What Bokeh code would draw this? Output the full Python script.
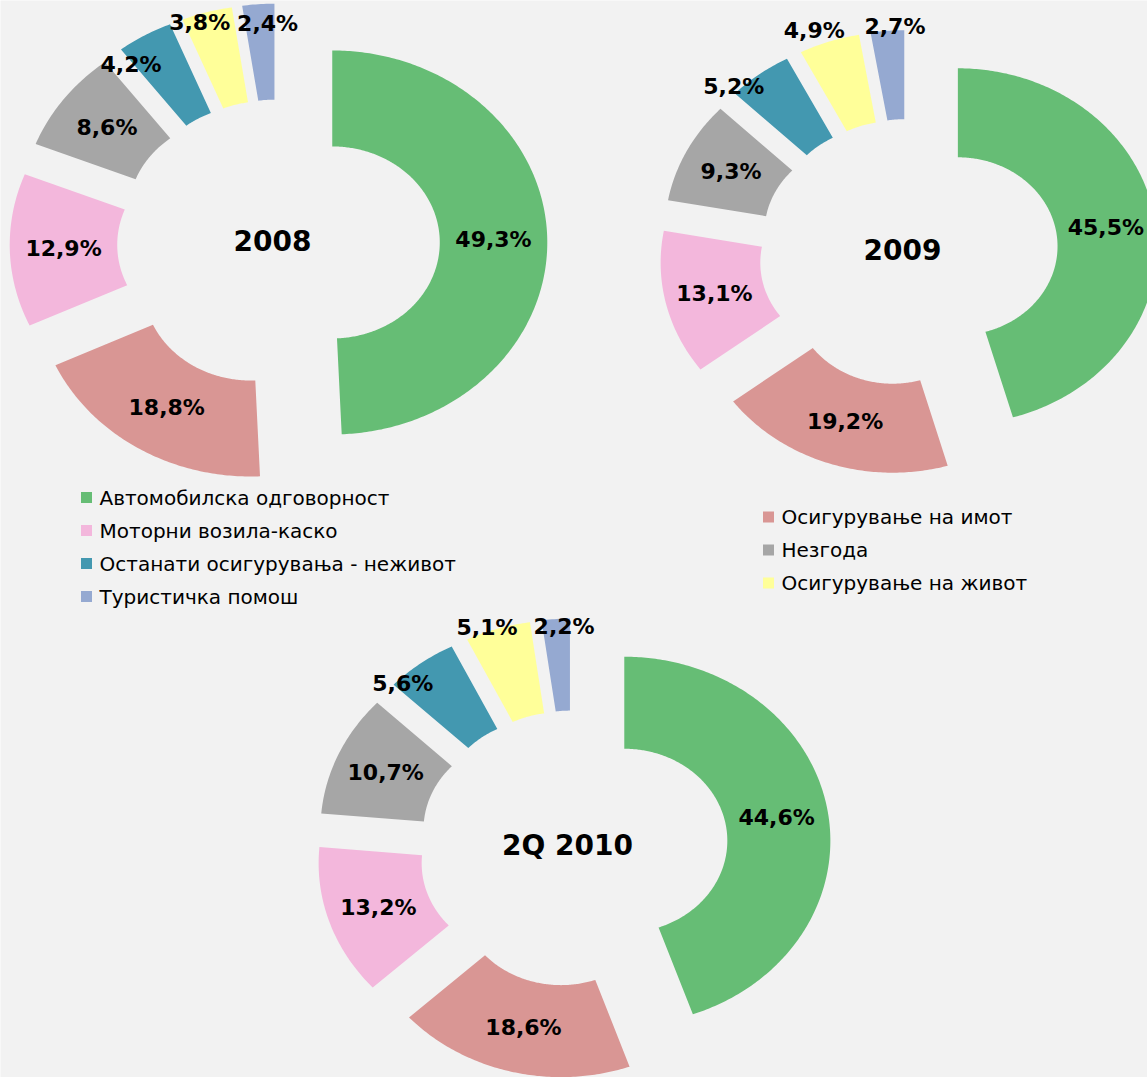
import math
from bokeh.plotting import figure
from bokeh.models import Range1d
from bokeh.embed import file_html
from bokeh.resources import INLINE
from bokeh.core.properties import value

# ---------------- data ----------------
categories = [
    "Автомобилска одговорност",
    "Осигурување на имот",
    "Моторни возила-каско",
    "Незгода",
    "Останати осигурувања - неживот",
    "Осигурување на живот",
    "Туристичка помош",
]
periods = ["2008", "2009", "2Q 2010"]
shares_2008 = [49.3, 18.8, 12.9, 8.6, 4.2, 3.8, 2.4]
shares_2009 = [45.5, 19.2, 13.1, 9.3, 5.2, 4.9, 2.7]
shares_2010 = [44.6, 18.6, 13.2, 10.7, 5.6, 5.1, 2.2]

# ---------------- styles / layout ----------------
colors = ["#66BD75", "#D99694", "#F3B7DC", "#A6A6A6", "#4398B0", "#FFFF99", "#95A9D1"]
BG = "#F2F2F2"
W, H = 1147, 1077
# donut centre (page px), vertical outer radius, outside-label radius scale
donut_layout = [(278, 243, 192, 0.95), (908, 252, 178, 1.05), (573, 848, 184, 1.0)]
ASPECT = 1.12
HOLE = 0.5
EXPLODE = 0.25
# label radial factor and angle nudge (deg) per slice position
LABEL_R = [1.0, 1.0, 1.0, 1.0, 1.22, 1.27, 1.21]
LABEL_DA = [0, 0, 0, 0, -6.4, -2.2, 1.8]
CENTER_NUDGE = (-6, -3)

p = figure(width=W, height=H, output_backend="svg", toolbar_location=None,
           x_range=Range1d(0, W), y_range=Range1d(H, 0),
           x_axis_location=None, y_axis_location=None,
           min_border=0, background_fill_color=BG, border_fill_color=BG)
p.outline_line_color = None
p.grid.visible = False

all_series = [shares_2008, shares_2009, shares_2010]

for (cx, cy, ry, lscale), vals, period in zip(donut_layout, all_series, periods):
    rx = ry * ASPECT
    total = sum(vals)
    xs, ys, fills = [], [], []
    lx, ly, lt = [], [], []
    cum = 0.0
    for i, v in enumerate(vals):
        t1 = 360.0 * cum / total
        t2 = 360.0 * (cum + v) / total
        cum += v
        tm = math.radians((t1 + t2) / 2)
        ex = EXPLODE * rx * math.sin(tm)
        ey = -EXPLODE * ry * math.cos(tm)
        n = max(6, int((t2 - t1) * 1.5))
        angs = [math.radians(t1 + (t2 - t1) * k / n) for k in range(n + 1)]
        px = [cx + ex + rx * math.sin(a) for a in angs]
        py = [cy + ey - ry * math.cos(a) for a in angs]
        px += [cx + ex + rx * HOLE * math.sin(a) for a in reversed(angs)]
        py += [cy + ey - ry * HOLE * math.cos(a) for a in reversed(angs)]
        xs.append(px)
        ys.append(py)
        fills.append(colors[i])
        lr = LABEL_R[i] * (lscale if LABEL_R[i] > 1 else 1.0)
        la = math.radians((t1 + t2) / 2 + LABEL_DA[i])
        lx.append(cx + rx * lr * math.sin(la))
        ly.append(cy - ry * lr * math.cos(la))
        lt.append(f"{v:.1f}".replace(".", ",") + "%")
    p.patches(xs=xs, ys=ys, fill_color=fills, line_color=None)
    p.text(x=lx, y=ly, text=lt, text_font=value("DejaVu Sans"), text_font_style="bold",
           text_font_size="22px", text_align="center", text_baseline="middle",
           text_color="black")
    p.text(x=[cx + CENTER_NUDGE[0]], y=[cy + CENTER_NUDGE[1]], text=[period],
           text_font=value("DejaVu Sans"), text_font_style="bold",
           text_font_size="28px", text_align="center", text_baseline="middle",
           text_color="black")

# ---------------- legend (two staggered columns) ----------------
LEG_COLS = [(86, 99, 497), (768, 781, 516.5)]
LEG_STEP = 33
mx, my, mc, tx, ty, tt = [], [], [], [], [], []
for i, cat in enumerate(categories):
    col = i % 2
    row = i // 2
    mxp, txp, y0 = LEG_COLS[col]
    yy = y0 + row * LEG_STEP
    mx.append(mxp); my.append(yy); mc.append(colors[i])
    tx.append(txp); ty.append(yy); tt.append(cat)
p.scatter(x=mx, y=my, marker="square", size=11, fill_color=mc, line_color=None)
p.text(x=tx, y=ty, text=tt, text_font=value("DejaVu Sans"), text_font_size="20px",
       text_align="left", text_baseline="middle", text_color="black")

open("out.html", "w").write(file_html(p, INLINE))
